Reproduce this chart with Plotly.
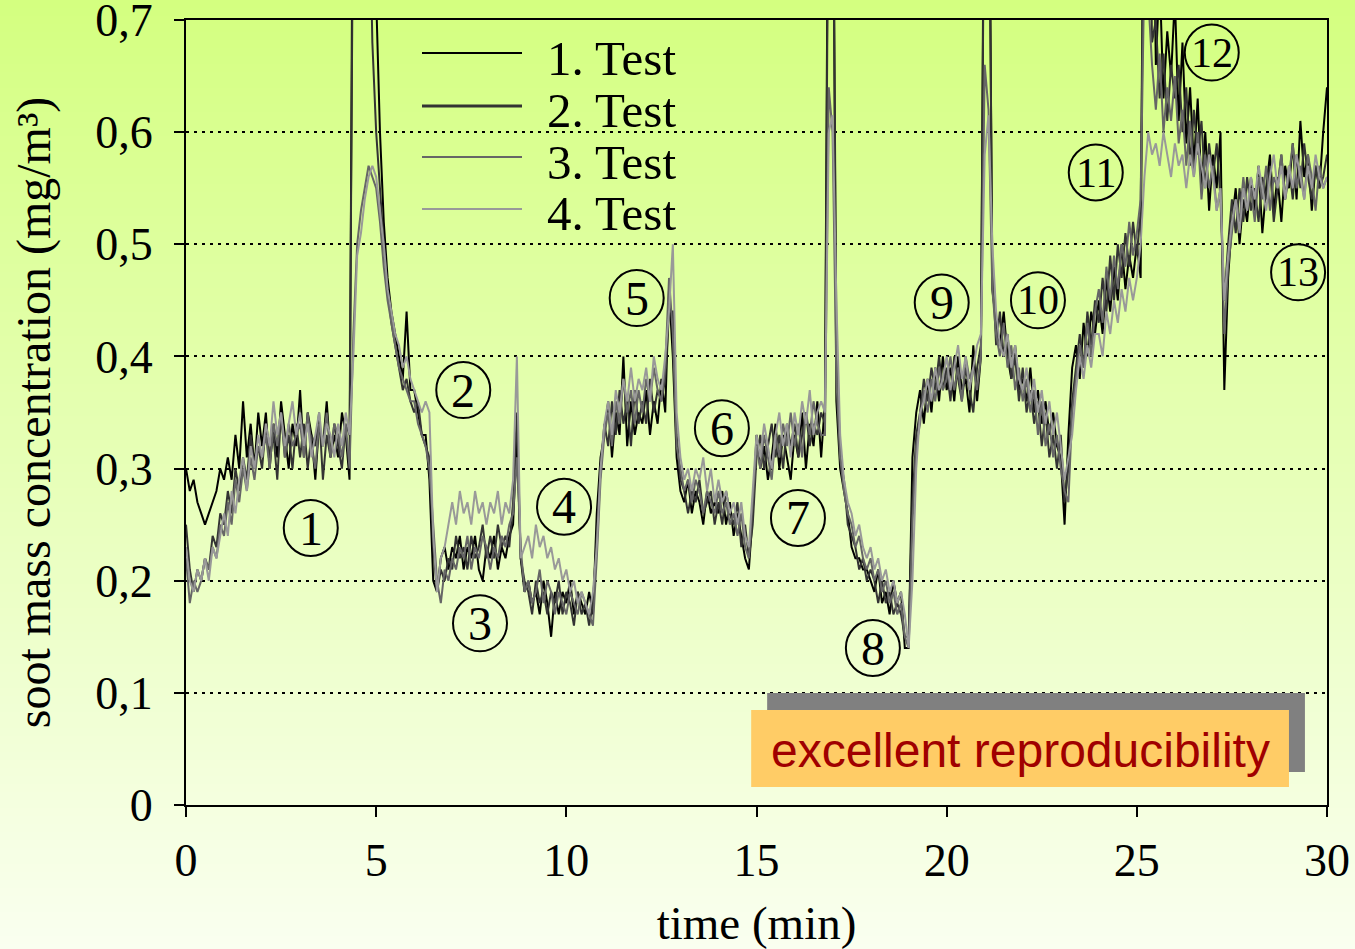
import plotly.graph_objects as go

# sample grid: one reading every 0.1 min over the 30 min cycle
time_min = [round(i * 0.1, 1) for i in range(301)]

# soot mass concentration (mg/m3) of the four repeated runs, one row per minute
test_1 = [
    0.30, 0.28, 0.29, 0.27, 0.26, 0.25, 0.26, 0.27, 0.28, 0.30,
    0.29, 0.31, 0.29, 0.33, 0.30, 0.36, 0.31, 0.34, 0.30, 0.35,
    0.32, 0.35, 0.30, 0.34, 0.31, 0.36, 0.33, 0.30, 0.34, 0.32,
    0.37, 0.31, 0.35, 0.33, 0.29, 0.34, 0.32, 0.36, 0.31, 0.33,
    0.31, 0.35, 0.33, 0.29, 0.95, 0.95, 0.95, 0.95, 0.95, 0.90,
    0.72, 0.60, 0.52, 0.47, 0.44, 0.42, 0.40, 0.38, 0.44, 0.37,
    0.37, 0.35, 0.33, 0.33, 0.29, 0.20, 0.19, 0.22, 0.23, 0.21,
    0.23, 0.22, 0.24, 0.21, 0.23, 0.22, 0.24, 0.21, 0.20, 0.23,
    0.22, 0.24, 0.21, 0.23, 0.22, 0.24, 0.25, 0.33, 0.22, 0.19,
    0.20, 0.18, 0.19, 0.17, 0.20, 0.18, 0.15, 0.19, 0.17, 0.19,
    0.18, 0.20, 0.17, 0.19, 0.18, 0.17, 0.19, 0.17, 0.26, 0.31,
    0.33, 0.36, 0.31, 0.35, 0.33, 0.40, 0.32, 0.36, 0.33, 0.35,
    0.34, 0.37, 0.33, 0.36, 0.34, 0.38, 0.35, 0.46, 0.40, 0.31,
    0.28, 0.27, 0.29, 0.26, 0.28, 0.27, 0.25, 0.28, 0.26, 0.27,
    0.26, 0.28, 0.25, 0.27, 0.24, 0.26, 0.24, 0.22, 0.21, 0.26,
    0.33, 0.30, 0.32, 0.29, 0.31, 0.34, 0.30, 0.33, 0.31, 0.29,
    0.33, 0.31, 0.35, 0.30, 0.34, 0.32, 0.36, 0.31, 0.36, 0.95,
    0.95, 0.36, 0.30, 0.28, 0.26, 0.23, 0.22, 0.22, 0.21, 0.21,
    0.20, 0.19, 0.21, 0.18, 0.19, 0.17, 0.20, 0.18, 0.19, 0.14,
    0.14, 0.31, 0.35, 0.37, 0.34, 0.38, 0.35, 0.39, 0.36, 0.40,
    0.37, 0.39, 0.36, 0.40, 0.37, 0.38, 0.35, 0.41, 0.36, 0.40,
    0.95, 0.95, 0.46, 0.43, 0.41, 0.44, 0.40, 0.38, 0.41, 0.37,
    0.38, 0.36, 0.39, 0.35, 0.37, 0.34, 0.36, 0.33, 0.35, 0.32,
    0.31, 0.25, 0.33, 0.39, 0.41, 0.38, 0.43, 0.40, 0.44, 0.42,
    0.45, 0.42, 0.47, 0.44, 0.48, 0.45, 0.50, 0.46, 0.49, 0.47,
    0.50, 0.47, 0.95, 0.95, 0.90, 0.66, 0.74, 0.63, 0.69, 0.65,
    0.72, 0.61, 0.68, 0.59, 0.64, 0.57, 0.63, 0.55, 0.60, 0.53,
    0.58, 0.55, 0.60, 0.37, 0.47, 0.52, 0.55, 0.50, 0.54, 0.52,
    0.56, 0.53, 0.57, 0.51, 0.55, 0.58, 0.53, 0.56, 0.52, 0.57,
    0.55, 0.59, 0.54, 0.61, 0.56, 0.58, 0.53, 0.57, 0.55, 0.60,
    0.64,
]

test_2 = [
    0.25, 0.21, 0.19, 0.21, 0.20, 0.22, 0.21, 0.24, 0.23, 0.26,
    0.25, 0.28, 0.26, 0.30, 0.28, 0.31, 0.29, 0.33, 0.30, 0.32,
    0.30, 0.34, 0.31, 0.33, 0.29, 0.35, 0.31, 0.33, 0.30, 0.34,
    0.31, 0.34, 0.30, 0.33, 0.32, 0.35, 0.29, 0.33, 0.31, 0.34,
    0.32, 0.30, 0.34, 0.33, 0.85, 0.85, 0.85, 0.85, 0.85, 0.68,
    0.60, 0.55, 0.50, 0.46, 0.43, 0.41, 0.39, 0.37, 0.38, 0.36,
    0.35, 0.36, 0.33, 0.32, 0.31, 0.23, 0.19, 0.21, 0.20, 0.22,
    0.21, 0.24, 0.22, 0.23, 0.21, 0.24, 0.22, 0.23, 0.25, 0.22,
    0.24, 0.22, 0.25, 0.23, 0.24, 0.23, 0.27, 0.35, 0.22, 0.20,
    0.19, 0.17, 0.20, 0.18, 0.19, 0.17, 0.19, 0.18, 0.20, 0.17,
    0.19, 0.18, 0.16, 0.19, 0.17, 0.18, 0.16, 0.18, 0.24, 0.30,
    0.34, 0.32, 0.36, 0.33, 0.37, 0.34, 0.36, 0.32, 0.37, 0.34,
    0.36, 0.34, 0.38, 0.35, 0.37, 0.36, 0.38, 0.44, 0.44, 0.33,
    0.29, 0.28, 0.26, 0.28, 0.27, 0.29, 0.26, 0.27, 0.28, 0.25,
    0.27, 0.25, 0.28, 0.26, 0.25, 0.27, 0.23, 0.25, 0.22, 0.25,
    0.31, 0.33, 0.30, 0.32, 0.34, 0.31, 0.33, 0.30, 0.34, 0.32,
    0.34, 0.31, 0.33, 0.35, 0.32, 0.34, 0.33, 0.35, 0.34, 0.90,
    0.90, 0.42, 0.31, 0.29, 0.25, 0.24, 0.23, 0.21, 0.22, 0.20,
    0.21, 0.20, 0.18, 0.20, 0.18, 0.19, 0.17, 0.18, 0.17, 0.15,
    0.15, 0.27, 0.33, 0.35, 0.38, 0.36, 0.39, 0.37, 0.40, 0.37,
    0.39, 0.36, 0.40, 0.38, 0.36, 0.39, 0.37, 0.35, 0.39, 0.41,
    0.90, 0.90, 0.48, 0.41, 0.44, 0.40, 0.42, 0.38, 0.40, 0.36,
    0.39, 0.35, 0.37, 0.34, 0.36, 0.32, 0.35, 0.31, 0.33, 0.30,
    0.33, 0.27, 0.30, 0.36, 0.39, 0.42, 0.39, 0.44, 0.41, 0.45,
    0.43, 0.47, 0.44, 0.49, 0.45, 0.50, 0.47, 0.51, 0.48, 0.52,
    0.49, 0.53, 0.90, 0.90, 0.68, 0.70, 0.63, 0.67, 0.61, 0.66,
    0.63, 0.66, 0.60, 0.64, 0.57, 0.62, 0.58, 0.61, 0.55, 0.59,
    0.56, 0.59, 0.54, 0.45, 0.50, 0.54, 0.51, 0.55, 0.52, 0.56,
    0.53, 0.55, 0.52, 0.56, 0.54, 0.57, 0.52, 0.55, 0.58, 0.54,
    0.57, 0.54, 0.58, 0.55, 0.59, 0.56, 0.54, 0.57, 0.55, 0.56,
    0.58,
]

test_3 = [
    0.22, 0.18, 0.20, 0.19, 0.20, 0.22, 0.21, 0.23, 0.22, 0.25,
    0.24, 0.27, 0.25, 0.29, 0.27, 0.30, 0.28, 0.31, 0.29, 0.32,
    0.31, 0.33, 0.30, 0.34, 0.32, 0.35, 0.31, 0.34, 0.32, 0.33,
    0.34, 0.31, 0.35, 0.32, 0.30, 0.34, 0.32, 0.35, 0.31, 0.34,
    0.33, 0.31, 0.34, 0.30, 0.42, 0.50, 0.53, 0.55, 0.57, 0.56,
    0.55, 0.52, 0.48, 0.45, 0.43, 0.41, 0.39, 0.38, 0.37, 0.36,
    0.36, 0.34, 0.33, 0.32, 0.30, 0.25, 0.20, 0.18, 0.21, 0.20,
    0.22, 0.21, 0.23, 0.22, 0.24, 0.21, 0.23, 0.22, 0.24, 0.23,
    0.21, 0.23, 0.22, 0.24, 0.23, 0.25, 0.26, 0.31, 0.23, 0.19,
    0.20, 0.18, 0.19, 0.21, 0.18, 0.20, 0.19, 0.17, 0.19, 0.18,
    0.17, 0.19, 0.18, 0.17, 0.19, 0.18, 0.17, 0.16, 0.22, 0.29,
    0.33, 0.35, 0.32, 0.36, 0.34, 0.38, 0.35, 0.37, 0.34, 0.37,
    0.35, 0.38, 0.36, 0.39, 0.37, 0.36, 0.39, 0.47, 0.42, 0.32,
    0.30, 0.28, 0.29, 0.27, 0.29, 0.28, 0.26, 0.28, 0.27, 0.26,
    0.28, 0.26, 0.27, 0.25, 0.26, 0.24, 0.26, 0.23, 0.22, 0.27,
    0.32, 0.30, 0.33, 0.31, 0.29, 0.33, 0.31, 0.34, 0.32, 0.35,
    0.32, 0.34, 0.31, 0.35, 0.33, 0.36, 0.34, 0.33, 0.33, 0.64,
    0.60, 0.38, 0.31, 0.28, 0.26, 0.25, 0.23, 0.24, 0.22, 0.21,
    0.22, 0.20, 0.21, 0.19, 0.20, 0.18, 0.19, 0.17, 0.18, 0.15,
    0.14, 0.25, 0.32, 0.34, 0.37, 0.35, 0.38, 0.36, 0.39, 0.37,
    0.38, 0.40, 0.37, 0.39, 0.36, 0.40, 0.38, 0.39, 0.37, 0.40,
    0.66, 0.62, 0.46, 0.42, 0.40, 0.43, 0.39, 0.41, 0.37, 0.39,
    0.36, 0.38, 0.35, 0.37, 0.33, 0.36, 0.32, 0.34, 0.31, 0.33,
    0.30, 0.28, 0.27, 0.35, 0.38, 0.41, 0.39, 0.43, 0.40, 0.44,
    0.46, 0.43, 0.48, 0.45, 0.49, 0.46, 0.50, 0.48, 0.52, 0.49,
    0.51, 0.54, 0.75, 0.72, 0.66, 0.62, 0.67, 0.60, 0.64, 0.61,
    0.65, 0.59, 0.62, 0.57, 0.61, 0.56, 0.60, 0.54, 0.58, 0.55,
    0.57, 0.53, 0.55, 0.42, 0.48, 0.51, 0.54, 0.52, 0.56, 0.53,
    0.55, 0.52, 0.56, 0.54, 0.57, 0.53, 0.56, 0.55, 0.58, 0.54,
    0.56, 0.59, 0.55, 0.57, 0.54, 0.58, 0.56, 0.53, 0.57, 0.55,
    0.56,
]

test_4 = [
    0.23, 0.20, 0.19, 0.21, 0.20, 0.22, 0.20, 0.23, 0.22, 0.24,
    0.26, 0.24, 0.28, 0.26, 0.29, 0.31, 0.28, 0.32, 0.30, 0.33,
    0.31, 0.34, 0.32, 0.36, 0.33, 0.35, 0.32, 0.34, 0.36, 0.33,
    0.35, 0.32, 0.34, 0.31, 0.33, 0.35, 0.32, 0.34, 0.33, 0.31,
    0.34, 0.32, 0.35, 0.33, 0.40, 0.49, 0.51, 0.54, 0.56, 0.57,
    0.56, 0.53, 0.50, 0.46, 0.44, 0.42, 0.41, 0.39, 0.40, 0.38,
    0.37, 0.36, 0.35, 0.36, 0.35, 0.24, 0.19, 0.22, 0.23, 0.25,
    0.27, 0.25, 0.28, 0.26, 0.27, 0.25, 0.28, 0.26, 0.27, 0.25,
    0.27, 0.26, 0.28, 0.25, 0.27, 0.26, 0.29, 0.40, 0.22, 0.23,
    0.24, 0.22, 0.25, 0.23, 0.24, 0.22, 0.23, 0.21, 0.22, 0.20,
    0.21, 0.19, 0.20, 0.18, 0.19, 0.18, 0.17, 0.19, 0.23, 0.30,
    0.34, 0.36, 0.33, 0.37, 0.35, 0.38, 0.36, 0.39, 0.36, 0.38,
    0.37, 0.39, 0.36, 0.40, 0.38, 0.37, 0.40, 0.44, 0.50, 0.35,
    0.31, 0.29, 0.30, 0.28, 0.30, 0.29, 0.31, 0.28, 0.30, 0.27,
    0.29, 0.27, 0.28, 0.26, 0.27, 0.25, 0.27, 0.24, 0.23, 0.28,
    0.33, 0.31, 0.34, 0.32, 0.30, 0.33, 0.35, 0.32, 0.34, 0.31,
    0.35, 0.33, 0.36, 0.34, 0.37, 0.33, 0.35, 0.36, 0.35, 0.60,
    0.615, 0.45, 0.33, 0.29, 0.27, 0.26, 0.24, 0.25, 0.23, 0.22,
    0.23, 0.21, 0.22, 0.20, 0.21, 0.19, 0.20, 0.18, 0.19, 0.17,
    0.14, 0.20, 0.30, 0.35, 0.36, 0.38, 0.36, 0.39, 0.37, 0.38,
    0.40, 0.37, 0.39, 0.41, 0.38, 0.40, 0.37, 0.39, 0.41, 0.42,
    0.58, 0.615, 0.50, 0.44, 0.41, 0.40, 0.42, 0.39, 0.41, 0.38,
    0.37, 0.39, 0.36, 0.38, 0.35, 0.37, 0.34, 0.36, 0.33, 0.35,
    0.32, 0.29, 0.31, 0.33, 0.37, 0.40, 0.38, 0.41, 0.39, 0.42,
    0.42, 0.40, 0.44, 0.42, 0.45, 0.43, 0.46, 0.44, 0.47, 0.45,
    0.47, 0.50, 0.56, 0.60, 0.58, 0.59, 0.57, 0.60, 0.58, 0.56,
    0.59, 0.57, 0.58, 0.55, 0.58, 0.56, 0.59, 0.57, 0.55, 0.58,
    0.56, 0.53, 0.55, 0.45, 0.49, 0.52, 0.54, 0.51, 0.55, 0.53,
    0.56, 0.54, 0.57, 0.55, 0.53, 0.56, 0.58, 0.55, 0.57, 0.54,
    0.57, 0.55, 0.58, 0.56, 0.54, 0.57, 0.55, 0.58, 0.56, 0.55,
    0.56,
]

series_names = ["1. Test", "2. Test", "3. Test", "4. Test"]
series_values = [test_1, test_2, test_3, test_4]
series_colors = ["#000000", "#333333", "#666666", "#999999"]
legend_widths = [2, 3, 2, 2]

y_tickvals = [0, 0.1, 0.2, 0.3, 0.4, 0.5, 0.6, 0.7]
y_ticktext = ["0", "0,1", "0,2", "0,3", "0,4", "0,5", "0,6", "0,7"]
x_tickvals = [0, 5, 10, 15, 20, 25, 30]

# operating-point markers: label, time (min), concentration position
point_labels = ["1", "2", "3", "4", "5", "6", "7", "8", "9", "10", "11", "12", "13"]
point_x = [3.28, 7.29, 7.73, 9.94, 11.85, 14.09, 16.09, 18.06, 19.87, 22.4, 23.92, 26.97, 29.24]
point_y = [0.247, 0.370, 0.162, 0.266, 0.452, 0.336, 0.256, 0.140, 0.448, 0.450, 0.564, 0.671, 0.475]

SERIF = "Liberation Serif"
W, H = 1355, 949
ML, MR, MT, MB = 186, 28, 20, 144
plot_w = W - ML - MR
plot_h = H - MT - MB

fig = go.Figure()

for name, vals, col in zip(series_names, series_values, series_colors):
    fig.add_trace(go.Scatter(
        x=time_min, y=vals, mode="lines", name=name,
        line=dict(color=col, width=2), showlegend=False,
    ))

shapes = []

# vertical background gradient built from thin horizontal bands
top_rgb = (212, 255, 128)
bot_rgb = (250, 255, 240)
band = 8
for py0 in range(0, H, band):
    py1 = min(H, py0 + band)
    f = (py0 + band / 2) / H
    r, g, b = (round(top_rgb[i] + (bot_rgb[i] - top_rgb[i]) * f) for i in range(3))
    shapes.append(dict(
        type="rect", xref="paper", yref="paper", layer="below",
        x0=-0.2, x1=1.1,
        y0=(H - MB - py1 - 1) / plot_h, y1=(H - MB - py0) / plot_h,
        fillcolor=f"rgb({r},{g},{b})", line=dict(width=0),
    ))

# hand-made legend with long line samples
def px_to_paper_x(px):
    return (px - ML) / plot_w

def py_to_paper_y(py):
    return (H - MB - py) / plot_h

legend_line_y = [53, 106, 157, 209]
legend_text_y = [59, 111, 163, 214]
annotations = []
for name, col, lw, ly, ty in zip(series_names, series_colors, legend_widths,
                                 legend_line_y, legend_text_y):
    shapes.append(dict(
        type="line", xref="paper", yref="paper",
        x0=px_to_paper_x(422), x1=px_to_paper_x(522),
        y0=py_to_paper_y(ly), y1=py_to_paper_y(ly),
        line=dict(color=col, width=lw),
    ))
    annotations.append(dict(
        xref="paper", yref="paper", x=px_to_paper_x(545), y=py_to_paper_y(ty),
        xanchor="left", yanchor="middle", text=name, showarrow=False,
        font=dict(family=SERIF, size=49, color="black"),
    ))

# circled operating-point numbers
for lab, cx, cy in zip(point_labels, point_x, point_y):
    shapes.append(dict(
        type="circle", xref="x", yref="y",
        xsizemode="pixel", ysizemode="pixel", xanchor=cx, yanchor=cy,
        x0=-27, x1=27, y0=-28, y1=28,
        line=dict(color="black", width=2), fillcolor="rgba(0,0,0,0)",
    ))
    annotations.append(dict(
        x=cx, y=cy, xref="x", yref="y", text=lab, showarrow=False,
        xanchor="center", yanchor="middle",
        font=dict(family=SERIF, size=48 if len(lab) == 1 else 42, color="black"),
    ))

# callout box with drop shadow
shapes.append(dict(type="rect", xref="x", yref="y", layer="above",
                   x0=15.28, x1=29.42, y0=0.0294, y1=0.0999,
                   fillcolor="#808080", line=dict(width=0)))
shapes.append(dict(type="rect", xref="x", yref="y", layer="above",
                   x0=14.86, x1=29.0, y0=0.016, y1=0.0847,
                   fillcolor="#ffcc66", line=dict(width=0)))
annotations.append(dict(
    x=21.93, y=0.049, xref="x", yref="y", text="excellent reproducibility",
    showarrow=False, xanchor="center", yanchor="middle",
    font=dict(family="Liberation Sans", size=48, color="#a00000"),
))

fig.update_layout(
    width=W, height=H,
    margin=dict(l=ML, r=MR, t=MT, b=MB, pad=0, autoexpand=False),
    paper_bgcolor="rgb(250,255,240)",
    plot_bgcolor="rgba(0,0,0,0)",
    shapes=shapes,
    annotations=annotations,
    showlegend=False,
    font=dict(family=SERIF, color="black"),
)

fig.update_xaxes(
    range=[0, 30], tickvals=x_tickvals, ticks="outside", ticklen=10, tickwidth=2,
    tickcolor="black", showline=True, linecolor="black", linewidth=2, mirror=True,
    showgrid=False, zeroline=False, tickfont=dict(family=SERIF, size=46),
    ticklabelstandoff=4, automargin=False, ticklabeloverflow="allow",
    title=dict(text="time (min)", font=dict(family=SERIF, size=47), standoff=22),
)
fig.update_yaxes(
    range=[0, 0.70001], tickvals=y_tickvals, ticktext=y_ticktext, ticks="outside",
    ticklen=10, tickwidth=2, tickcolor="black", showline=True, linecolor="black",
    linewidth=2, mirror=True, showgrid=True, gridcolor="black", gridwidth=2,
    griddash="3px,5px", zeroline=False, tickfont=dict(family=SERIF, size=46),
    ticklabelstandoff=12, automargin=False, ticklabeloverflow="allow",
    title=dict(text="soot mass concentration (mg/m³)",
               font=dict(family=SERIF, size=48), standoff=29),
)

fig.write_html("out.html")
